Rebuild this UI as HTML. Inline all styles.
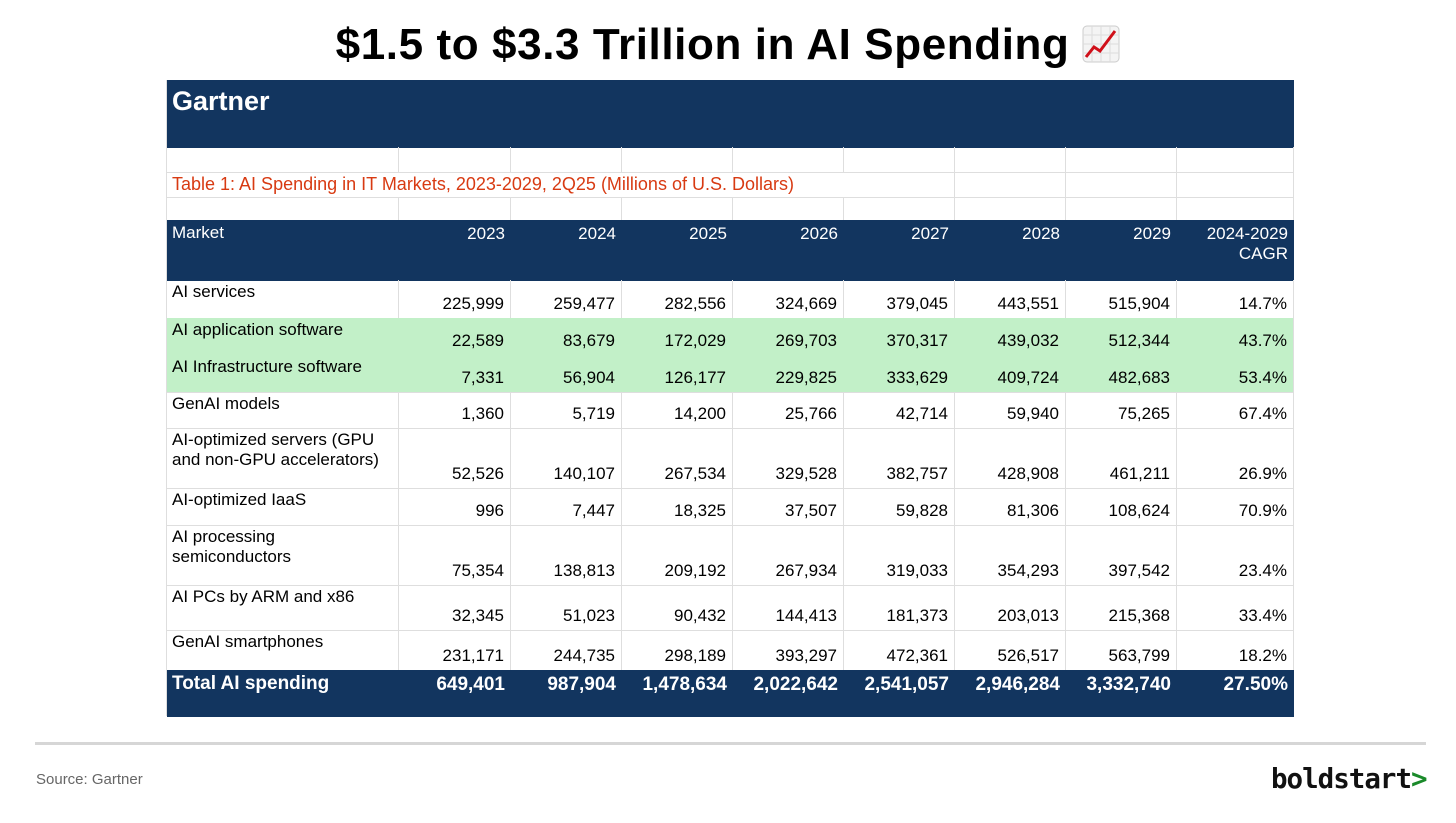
<!DOCTYPE html>
<html><head><meta charset="utf-8">
<style>
body{margin:0;width:1456px;height:823px;background:#fff;position:relative;overflow:hidden;font-family:"Liberation Sans",Arial,sans-serif;}
.abs{position:absolute;}
.cell{position:absolute;box-sizing:border-box;border-right:1px solid #dedede;border-bottom:1px solid #dedede;font-size:17px;color:#000;}
.lab{position:absolute;left:5px;top:2px;line-height:20px;}
.num{position:absolute;right:6px;bottom:4px;}
</style></head><body>
<div class="abs" style="left:0;width:1456px;top:20px;text-align:center;font-weight:bold;font-size:44px;letter-spacing:0.6px;">$1.5 to $3.3 Trillion in AI Spending <svg width="38" height="38" viewBox="0 0 38 38" style="vertical-align:-4px"><rect x="1" y="1" width="36" height="36" rx="4" fill="#f4f4f4" stroke="#ccc"/><g stroke="#ddd"><line x1="1" y1="10" x2="37" y2="10"/><line x1="1" y1="19" x2="37" y2="19"/><line x1="1" y1="28" x2="37" y2="28"/><line x1="10" y1="1" x2="10" y2="37"/><line x1="19" y1="1" x2="19" y2="37"/><line x1="28" y1="1" x2="28" y2="37"/></g><polyline points="4,32 12,22 18,26 33,6" fill="none" stroke="#d0101a" stroke-width="3"/></svg></div>
<div id="tbl"></div>
<div class="abs" style="left:35px;top:742px;width:1391px;height:3px;background:#d6d6d6"></div>
<div class="abs" style="left:36px;top:771px;font-size:15px;color:#666">Source: Gartner</div>
<div class="abs" style="left:1271px;top:763px;font-family:'DejaVu Sans Mono','Liberation Mono',monospace;font-weight:bold;font-size:27.5px;letter-spacing:-1px;color:#111">boldstart<span style="color:#1a8a2a">&gt;</span></div>
<script>
const years=["2023","2024","2025","2026","2027","2028","2029"];
const markets=["AI services","AI application software","AI Infrastructure software","GenAI models","AI-optimized servers (GPU<br>and non-GPU accelerators)","AI-optimized IaaS","AI processing<br>semiconductors","AI PCs by ARM and x86","GenAI smartphones"];
const s0=[225999,259477,282556,324669,379045,443551,515904];
const s1=[22589,83679,172029,269703,370317,439032,512344];
const s2=[7331,56904,126177,229825,333629,409724,482683];
const s3=[1360,5719,14200,25766,42714,59940,75265];
const s4=[52526,140107,267534,329528,382757,428908,461211];
const s5=[996,7447,18325,37507,59828,81306,108624];
const s6=[75354,138813,209192,267934,319033,354293,397542];
const s7=[32345,51023,90432,144413,181373,203013,215368];
const s8=[231171,244735,298189,393297,472361,526517,563799];
const cagr=["14.7%","43.7%","53.4%","67.4%","26.9%","70.9%","23.4%","33.4%","18.2%"];
const totals=[649401,987904,1478634,2022642,2541057,2946284,3332740];
const totalCagr="27.50%";
const series=[s0,s1,s2,s3,s4,s5,s6,s7,s8];
const highlighted=[1,2];
const X=[167,398,510,621,732,843,954,1065,1176,1293];
const rowH=[38,37,37,36,60,37,60,45,40];
const NAVY="#12355f";
const T=document.getElementById('tbl');
function cell(x0,x1,y0,y1,bg,name){const d=document.createElement('div');d.className='cell';


d.style.left=x0+'px';d.style.top=y0+'px';d.style.width=(x1-x0+1)+'px';d.style.height=(y1-y0+1)+'px';if(bg){d.style.background=bg;d.style.borderColor=bg==NAVY?NAVY:'#dedede';}T.appendChild(d);return d;}
const fmt=n=>n.toLocaleString('en-US');
const lb=document.createElement('div');lb.className='abs';


lb.style.cssText='left:166px;top:80px;width:1px;height:636px;background:#dedede';T.appendChild(lb);
let h=cell(167,1293,80,147,NAVY,'gartner-header');h.innerHTML='<div class="lab" style="color:#fff;font-weight:bold;font-size:27px;top:6px;line-height:30px">Gartner</div>';
for(let i=0;i<9;i++){cell(X[i],X[i+1],147,172,null,'blank-cell');}
let t=cell(167,954,172,197,null,'table-caption');t.innerHTML='<div class="lab" style="color:#d83a12;font-size:18px;top:2px">Table 1: AI Spending in IT Markets, 2023-2029, 2Q25 (Millions of U.S. Dollars)</div>';
for(let i=6;i<9;i++)cell(X[i],X[i+1],172,197,null,'blank-cell');
for(let i=0;i<9;i++)cell(X[i],X[i+1],197,220,null,'blank-cell');
let hd=cell(167,1293,220,280,NAVY,'column-header-row');
let html='<div class="lab" style="color:#fff;top:3px">Market</div>';
years.forEach((y,i)=>{html+=`<div style="position:absolute;color:#fff;top:4px;right:${1293-X[i+2]+5}px">${y}</div>`;});
html+=`<div style="position:absolute;color:#fff;top:4px;right:5px;text-align:right;line-height:20px">2024-2029<br>CAGR</div>`;
hd.innerHTML=html;
let y=280;
markets.forEach((m,r)=>{const y1=y+rowH[r];const bg=highlighted.includes(r)?'#c2f0c8':null;
let c=cell(X[0],X[1],y,y1,bg,'market-label');c.innerHTML=`<div class="lab">${m}</div>`;
series[r].forEach((v,i)=>{let d=cell(X[i+1],X[i+2],y,y1,bg,'value-cell');d.innerHTML=`<div class="num">${fmt(v)}</div>`;});
let d=cell(X[8],X[9],y,y1,bg,'cagr-cell');d.innerHTML=`<div class="num">${cagr[r]}</div>`;
y=y1;});
let tr=cell(167,1293,y,716,NAVY,'total-row');
html='<div class="lab" style="color:#fff;font-weight:bold;font-size:19px;top:4px">Total AI spending</div>';
totals.forEach((v,i)=>{html+=`<div style="position:absolute;color:#fff;font-weight:bold;font-size:19px;top:4px;right:${1293-X[i+2]+5}px">${fmt(v)}</div>`;});
html+=`<div style="position:absolute;color:#fff;font-weight:bold;font-size:19px;top:4px;right:5px">${totalCagr}</div>`;
tr.innerHTML=html;
</script>
</body></html>
